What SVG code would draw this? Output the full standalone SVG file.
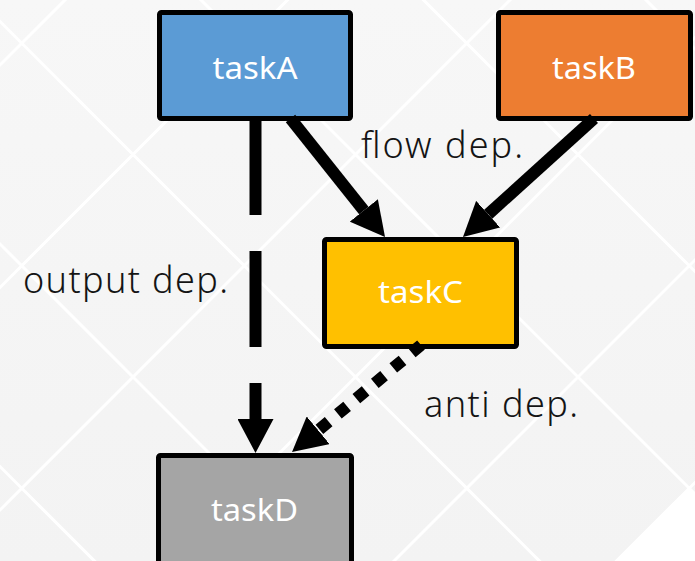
<svg xmlns="http://www.w3.org/2000/svg" width="695" height="561" viewBox="0 0 695 561">
  <defs>
    <linearGradient id="bg" x1="0" y1="0" x2="0" y2="1">
      <stop offset="0" stop-color="#f7f7f7"/>
      <stop offset="1" stop-color="#f3f3f3"/>
    </linearGradient>
    <marker id="arrow" markerUnits="userSpaceOnUse" markerWidth="34" markerHeight="36" viewBox="0 0 34 36" refX="0" refY="18" orient="auto">
      <path d="M0,0 L34,18 L0,36 Z" fill="#000"/>
    </marker>
    <style>
      .lattice { stroke: #ffffff; stroke-width: 3; fill: none; }
      .box { stroke: #000; stroke-width: 5; }
      .name { font-family: "Noto Sans", "Liberation Sans", sans-serif; font-size: 31px; fill: #ffffff; text-anchor: middle; }
      .label { font-family: "Noto Sans", "Liberation Sans", sans-serif; font-size: 36px; font-weight: 300; fill: #141414; }
      .edge { stroke: #000; stroke-width: 12; fill: none; stroke-linecap: butt; marker-end: url(#arrow); }
      .long-dash { stroke-dasharray: 96 36; }
      .square-dot { stroke-dasharray: 12 12; }
    </style>
  </defs>

  <!-- backdrop: light panel with a diagonal lattice -->
  <rect width="695" height="561" fill="url(#bg)"/>
  <path class="lattice" d="
    M165,-100 L-635,700 M387.5,-100 L-412.5,700 M610,-100 L-190,700
    M832.5,-100 L32.5,700 M1055,-100 L255,700 M1277.5,-100 L477.5,700
    M-566.5,-100 L233.5,700 M-344,-100 L456,700 M-121.5,-100 L678.5,700
    M101,-100 L901,700 M323.5,-100 L1123.5,700 M546,-100 L1346,700"/>
  <path d="M689,488 L800,599 L689,710 L578,599 Z" fill="#ffffff"/>

  <!-- nodes -->
  <g id="taskA">
    <rect class="box" x="159.5" y="12.5" width="191" height="106" rx="2" fill="#5b9bd5"/>
    <text class="name" x="255" y="79" textLength="85" lengthAdjust="spacingAndGlyphs">taskA</text>
  </g>
  <g id="taskB">
    <rect class="box" x="498.5" y="12.5" width="192" height="106" rx="2" fill="#ed7d31"/>
    <text class="name" x="594" y="79" textLength="84" lengthAdjust="spacingAndGlyphs">taskB</text>
  </g>
  <g id="taskC">
    <rect class="box" x="324.5" y="239.5" width="192" height="107" rx="2" fill="#ffc000"/>
    <text class="name" x="420.5" y="303" textLength="85" lengthAdjust="spacingAndGlyphs">taskC</text>
  </g>
  <g id="taskD">
    <rect class="box" x="158.5" y="455.5" width="193" height="108" rx="2" fill="#a5a5a5"/>
    <text class="name" x="254.5" y="521" textLength="87" lengthAdjust="spacingAndGlyphs">taskD</text>
  </g>

  <!-- connectors -->
  <g id="connectors">
    <path class="edge" d="M290.5,118.5 L363.8,210.4"/>
    <path class="edge" d="M594,118.5 L488.2,214.2"/>
    <path class="edge long-dash" d="M255.5,119 L255.5,419"/>
    <path class="edge square-dot" d="M421,345 L318.2,430.3"/>
  </g>

  <!-- edge labels -->
  <g id="labels">
    <text class="label" x="361" y="158" textLength="162" lengthAdjust="spacing">flow dep.</text>
    <text class="label" x="23" y="293" textLength="205" lengthAdjust="spacing">output dep.</text>
    <text class="label" x="424" y="417" textLength="154" lengthAdjust="spacing">anti dep.</text>
  </g>
</svg>
